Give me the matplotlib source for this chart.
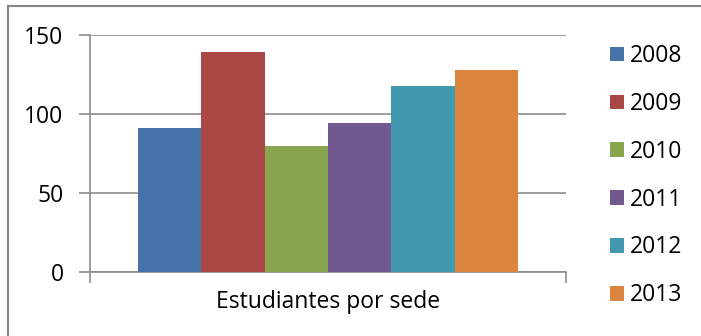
import matplotlib
matplotlib.use("Agg")
import matplotlib.pyplot as plt
from matplotlib.lines import Line2D

# data
category = "Estudiantes por sede"
years = ["2008", "2009", "2010", "2011", "2012", "2013"]
students = [91, 139, 80, 94, 118, 128]
colors = ["#4572A7", "#AA4643", "#89A54E", "#71588F", "#4198AF", "#DB843D"]
y_ticks = [0, 50, 100, 150]

plt.rcParams['font.family'] = ['Open Sans', 'DejaVu Sans']
FS = 16.5
GRID = "#8c8c8c"

fig = plt.figure(figsize=(7.01, 3.36), dpi=100)
ax = fig.add_axes([90 / 701, 64 / 336, 476 / 701, 237 / 336])

# one category, six bars filling 80% of the slot
n = len(years)
width = 0.8 / n
for i, (yr, val, col) in enumerate(zip(years, students, colors)):
    ax.bar((i - (n - 1) / 2) * width, val, width=width, color=col, label=yr, zorder=3)

ax.set_xlim(-0.5, 0.5)
ax.set_ylim(0, 150)
ax.set_yticks(y_ticks)
ax.yaxis.grid(True, color=GRID, linewidth=1.2, zorder=0)
ax.tick_params(axis='y', length=8, width=1.2, color=GRID, labelsize=FS, pad=11)

ax.set_xticks([-0.5, 0.5])
ax.set_xticklabels(["", ""])
ax.tick_params(axis='x', which='major', length=8, width=1.2, color=GRID)
ax.set_xticks([0], minor=True)
ax.set_xticklabels([category], minor=True)
ax.tick_params(axis='x', which='minor', length=0, labelsize=FS, pad=13)

for side in ["top", "right"]:
    ax.spines[side].set_visible(False)
for side in ["left", "bottom"]:
    ax.spines[side].set_color(GRID)
    ax.spines[side].set_linewidth(1.2)

leg = ax.legend(loc='upper left', bbox_to_anchor=(601 / 701, 301 / 336),
                bbox_transform=fig.transFigure, frameon=False, fontsize=FS,
                handlelength=0.6, handleheight=0.6, handletextpad=0.25,
                labelspacing=1.04, borderaxespad=0)

# outer chart border: only left and top edges fall inside the crop
x0, y0 = 7.5 / 701, 330.5 / 336
fig.lines.append(Line2D([x0, x0], [0, y0], transform=fig.transFigure,
                        color="#868686", linewidth=1.5))
fig.lines.append(Line2D([x0, 1], [y0, y0], transform=fig.transFigure,
                        color="#868686", linewidth=1.5))

fig.savefig("out.png", dpi=100)
